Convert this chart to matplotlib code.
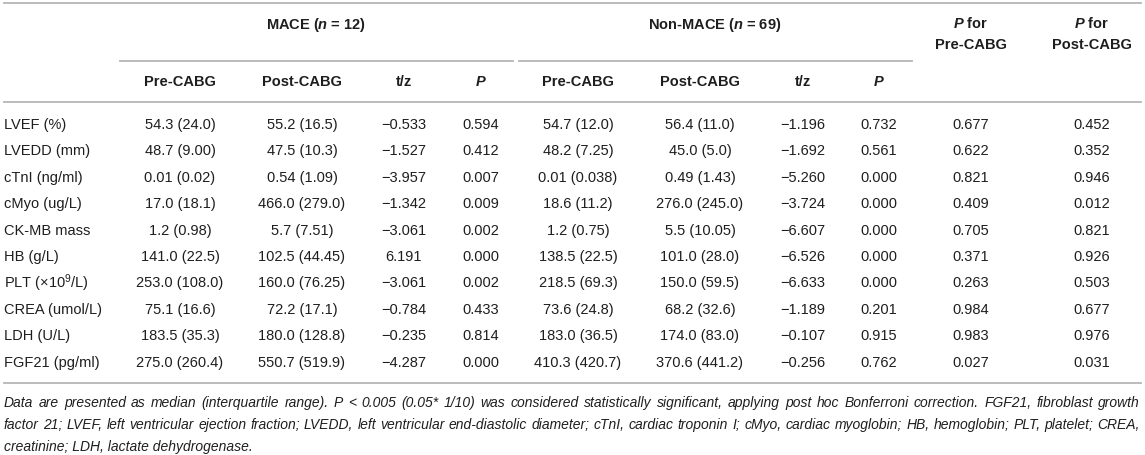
import matplotlib
matplotlib.use("Agg")
import matplotlib.pyplot as plt

plt.rcParams['font.family'] = ['Liberation Sans', 'DejaVu Sans']
plt.rcParams['mathtext.fontset'] = 'custom'
plt.rcParams['mathtext.rm'] = 'Liberation Sans'
plt.rcParams['mathtext.it'] = 'Liberation Sans:italic:bold'
plt.rcParams['mathtext.bf'] = 'Liberation Sans:bold'

# table contents
row_labels = ["LVEF (%)", "LVEDD (mm)", "cTnI (ng/ml)", "cMyo (ug/L)", "CK-MB mass",
              "HB (g/L)", "PLT (\u00d710$^{9}$/L)", "CREA (umol/L)", "LDH (U/L)", "FGF21 (pg/ml)"]
mace_pre = ["54.3 (24.0)", "48.7 (9.00)", "0.01 (0.02)", "17.0 (18.1)", "1.2 (0.98)",
            "141.0 (22.5)", "253.0 (108.0)", "75.1 (16.6)", "183.5 (35.3)", "275.0 (260.4)"]
mace_post = ["55.2 (16.5)", "47.5 (10.3)", "0.54 (1.09)", "466.0 (279.0)", "5.7 (7.51)",
             "102.5 (44.45)", "160.0 (76.25)", "72.2 (17.1)", "180.0 (128.8)", "550.7 (519.9)"]
mace_tz = ["\u22120.533", "\u22121.527", "\u22123.957", "\u22121.342", "\u22123.061",
           "6.191", "\u22123.061", "\u22120.784", "\u22120.235", "\u22124.287"]
mace_p = ["0.594", "0.412", "0.007", "0.009", "0.002", "0.000", "0.002", "0.433", "0.814", "0.000"]
non_pre = ["54.7 (12.0)", "48.2 (7.25)", "0.01 (0.038)", "18.6 (11.2)", "1.2 (0.75)",
           "138.5 (22.5)", "218.5 (69.3)", "73.6 (24.8)", "183.0 (36.5)", "410.3 (420.7)"]
non_post = ["56.4 (11.0)", "45.0 (5.0)", "0.49 (1.43)", "276.0 (245.0)", "5.5 (10.05)",
            "101.0 (28.0)", "150.0 (59.5)", "68.2 (32.6)", "174.0 (83.0)", "370.6 (441.2)"]
non_tz = ["\u22121.196", "\u22121.692", "\u22125.260", "\u22123.724", "\u22126.607",
          "\u22126.526", "\u22126.633", "\u22121.189", "\u22120.107", "\u22120.256"]
non_p = ["0.732", "0.561", "0.000", "0.000", "0.000", "0.000", "0.000", "0.201", "0.915", "0.762"]
p_pre = ["0.677", "0.622", "0.821", "0.409", "0.705", "0.371", "0.263", "0.984", "0.983", "0.027"]
p_post = ["0.452", "0.352", "0.946", "0.012", "0.821", "0.926", "0.503", "0.677", "0.976", "0.031"]

sub_headers = ["Pre-CABG", "Post-CABG", "t/z", "P"]
footnote = [
    "Data are presented as median (interquartile range). P < 0.005 (0.05* 1/10) was considered statistically "
    "significant, applying post hoc Bonferroni correction. FGF21, fibroblast growth",
    "factor 21; LVEF, left ventricular ejection fraction; LVEDD, left ventricular end-diastolic diameter; cTnI, "
    "cardiac troponin I; cMyo, cardiac myoglobin; HB, hemoglobin; PLT, platelet; CREA,",
    "creatinine; LDH, lactate dehydrogenase.",
]

columns = [mace_pre, mace_post, mace_tz, mace_p, non_pre, non_post, non_tz, non_p, p_pre, p_post]

# layout in pixels (figure is 1145 x 456)
W, H = 1145, 456
col_x = [180, 302, 404, 481, 578, 700, 803, 879, 971, 1092]
row_y0, row_dy = 125, 26.4
txt = '#1e1e1e'
rule = '#b5b5b5'
fs = 10.5
fs_note = 10.0
left, right = 4, 1140

fig = plt.figure(figsize=(W / 100, H / 100), dpi=100)
ax = fig.add_axes([0, 0, 1, 1])
ax.set_xlim(0, W)
ax.set_ylim(H, 0)
ax.axis('off')

# rules
ax.plot([4, 1141], [4, 4], color=rule, lw=1.3)
ax.plot([120, 513], [62, 62], color=rule, lw=1.3)
ax.plot([519, 912], [62, 62], color=rule, lw=1.3)
ax.plot([4, 1141], [103, 103], color=rule, lw=1.3)
ax.plot([4, 1141], [384, 384], color=rule, lw=1.3)

# group headers
ax.text(316, 25, "MACE ($\\mathit{n}$ = 12)", ha='center', va='center', fontsize=fs,
        fontweight='bold', color=txt)
ax.text(715, 25, "Non-MACE ($\\mathit{n}$ = 69)", ha='center', va='center', fontsize=fs,
        fontweight='bold', color=txt)
for cx, lab in [(971, "Pre-CABG"), (1092, "Post-CABG")]:
    ax.text(cx, 24, "$\\mathit{P}$ for", ha='center', va='center', fontsize=fs,
            fontweight='bold', color=txt)
    ax.text(cx, 45, lab, ha='center', va='center', fontsize=fs, fontweight='bold', color=txt)

for i, h in enumerate(sub_headers * 2):
    style = 'italic' if h == "P" else 'normal'
    ax.text(col_x[i], 82, h, ha='center', va='center', fontsize=fs, fontweight='bold',
            fontstyle=style, color=txt)

# body
for r, lab in enumerate(row_labels):
    y = row_y0 + r * row_dy
    ax.text(4, y, lab, ha='left', va='center', fontsize=fs, color=txt)
    for cx, col in zip(col_x, columns):
        ax.text(cx, y, col[r], ha='center', va='center', fontsize=fs, color=txt)

# footnote, first two lines justified to the table width
renderer = fig.canvas.get_renderer()
for k, line in enumerate(footnote):
    y = 403 + k * 22
    if k == len(footnote) - 1:
        ax.text(left, y, line, ha='left', va='center', fontsize=fs_note,
                fontstyle='italic', color=txt)
        continue
    words = line.split(' ')
    items = [ax.text(0, y, w, ha='left', va='center', fontsize=fs_note,
                     fontstyle='italic', color=txt) for w in words]
    widths = [t.get_window_extent(renderer).width for t in items]
    gap = (right - left - sum(widths)) / (len(words) - 1)
    x = left
    for t, w in zip(items, widths):
        t.set_x(x)
        x += w + gap

fig.savefig("out.png", dpi=100)
